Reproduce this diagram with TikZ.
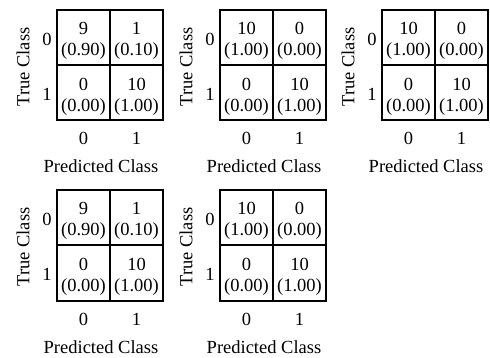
\documentclass[tikz,border=0pt]{standalone}
\usepackage{fontspec}
\setmainfont{Liberation Serif}
\tikzset{
  mat/.style={line width=2pt, draw=black},
  cell/.style={inner sep=0pt, align=center, font=\fontsize{18.5}{21}\selectfont},
  lab/.style={inner sep=0pt, font=\fontsize{18.5}{21}\selectfont},
}
\newcommand\confmat[7]{%
  \begin{scope}[shift={(#2,#3)}]
    \draw[mat] (0,0) rectangle (106,110.5);
    \draw[mat] (53,0) -- (53,110.5);
    \draw[mat] (0,55.25) -- (106,55.25);
    \node[cell] (#1a) at (26.5,31.3) {#4};
    \node[cell] (#1b) at (79.5,31.3) {#5};
    \node[cell] (#1c) at (26.5,86.5) {#6};
    \node[cell] (#1d) at (79.5,86.5) {#7};
    \node[lab] (#1r0) at (-10,29) {0};
    \node[lab] (#1r1) at (-10,84) {1};
    \node[lab, anchor=base] (#1c0) at (26.5,135) {0};
    \node[lab, anchor=base] (#1c1) at (79.5,135) {1};
    \node[lab, anchor=base] (#1x) at (44,163) {Predicted Class};
    \node[lab, rotate=90] (#1y) at (-34,57) {True Class};
  \end{scope}}
\begin{document}
\begin{tikzpicture}[x=1pt,y=-1pt]
\useasboundingbox (0,0) rectangle (490,358);
\confmat{m1}{57}{10}{9\\(0.90)}{1\\(0.10)}{0\\(0.00)}{10\\(1.00)}
\confmat{m2}{220}{10}{10\\(1.00)}{0\\(0.00)}{0\\(0.00)}{10\\(1.00)}
\confmat{m3}{382}{10}{10\\(1.00)}{0\\(0.00)}{0\\(0.00)}{10\\(1.00)}
\confmat{m4}{57}{190}{9\\(0.90)}{1\\(0.10)}{0\\(0.00)}{10\\(1.00)}
\confmat{m5}{220}{190}{10\\(1.00)}{0\\(0.00)}{0\\(0.00)}{10\\(1.00)}
\end{tikzpicture}
\end{document}
